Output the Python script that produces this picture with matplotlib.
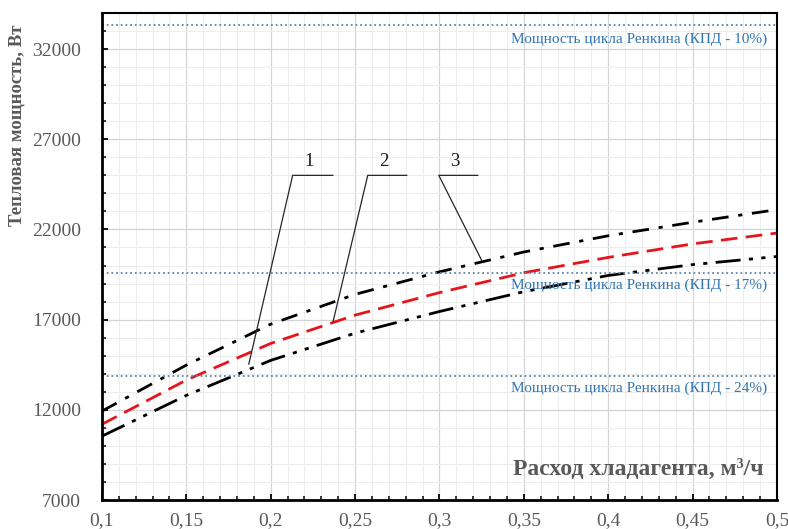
import matplotlib
matplotlib.use("Agg")
import matplotlib.pyplot as plt
from matplotlib.ticker import MultipleLocator, FuncFormatter

plt.rcParams["font.family"] = ["Liberation Serif", "DejaVu Serif"]

# расход хладагента, м3/ч
flow = [0.1, 0.15, 0.2, 0.25, 0.3, 0.35, 0.4, 0.45, 0.5]
# тепловая мощность, Вт
curve_1 = [10540, 12800, 14740, 16250, 17450, 18550, 19450, 20050, 20500]
curve_2 = [11200, 13650, 15680, 17250, 18500, 19600, 20450, 21200, 21800]
curve_3 = [11930, 14480, 16750, 18400, 19650, 20750, 21650, 22400, 23100]

y_ticks = [7000, 12000, 17000, 22000, 27000, 32000]

# мощность цикла Ренкина для разных КПД
rankine_levels = [33330, 19600, 13880]
rankine_labels = ["Мощность цикла Ренкина (КПД - 10%)",
                  "Мощность цикла Ренкина (КПД - 17%)",
                  "Мощность цикла Ренкина (КПД - 24%)"]
rankine_label_y = [32550, 18900, 13200]

# выноски: номер, точка на кривой, излом, конец полки
leader_names = ["1", "2", "3"]
leader_tip = [(0.187, 14530), (0.237, 16910), (0.325, 20290)]
leader_knee = [(0.213, 25000), (0.2575, 25000), (0.2996, 25000)]
leader_end = [0.2368, 0.2806, 0.3227]

fig = plt.figure(figsize=(7.88, 5.29), dpi=100)
ax = fig.add_axes([0.1294, 0.0548, 0.8566, 0.9206])

ax.plot(flow, curve_1, color="black", lw=2.0, dashes=(9, 3, 1.5, 3, 1.5, 3))
ax.plot(flow, curve_2, color="#e8141c", lw=2.0, dashes=(6, 3))
ax.plot(flow, curve_3, color="black", lw=2.0, dashes=(6, 3.5, 1.5, 3.5))

for lvl, lab, ly in zip(rankine_levels, rankine_labels, rankine_label_y):
    ax.axhline(lvl, color="#5f86a8", lw=1.3, ls=(0, (1, 1.6)))
    ax.text(0.494, ly, lab, color="#2f75b5", fontsize=11, ha="right", va="center")

for name, tip, knee, end in zip(leader_names, leader_tip, leader_knee, leader_end):
    ax.plot([tip[0], knee[0], end], [tip[1], knee[1], knee[1]], color="#262626", lw=0.9)
    ax.text((knee[0] + end) / 2 - 0.002, knee[1] + 300, name, fontsize=13.5,
            ha="center", va="bottom", color="#1a1a1a")

ax.set_xlim(0.1, 0.5)
ax.set_ylim(7000, 34000)
ax.xaxis.set_major_locator(MultipleLocator(0.05))
ax.xaxis.set_minor_locator(MultipleLocator(0.01))
ax.set_yticks(y_ticks)
ax.yaxis.set_minor_locator(MultipleLocator(1000))
ax.xaxis.set_major_formatter(FuncFormatter(lambda v, p: f"{v:g}".replace(".", ",")))

ax.grid(which="major", color="#d4d4d4", lw=0.9)
ax.grid(which="minor", color="#ededed", lw=0.8)
ax.set_axisbelow(True)

ax.tick_params(which="both", direction="in", colors="black", labelcolor="#595959",
               labelsize=14)
ax.tick_params(which="major", length=4, width=1.3)
ax.tick_params(which="minor", length=3, width=1.1)
ax.tick_params(axis="y", pad=15)
ax.tick_params(axis="x", pad=9)
for side in ["left", "bottom"]:
    ax.spines[side].set_linewidth(2.0)
for side in ["top", "right"]:
    ax.spines[side].set_linewidth(1.5)

ax.set_ylabel("Тепловая мощность, Вт", fontsize=13.5, fontweight="bold", color="#595959")
ax.yaxis.set_label_coords(-0.113, 0.77)
ax.text(0.492, 8700, "Расход хладагента, м³/ч", fontsize=17, fontweight="bold",
        color="#595959", ha="right", va="center")

fig.savefig("out.png", dpi=100)
